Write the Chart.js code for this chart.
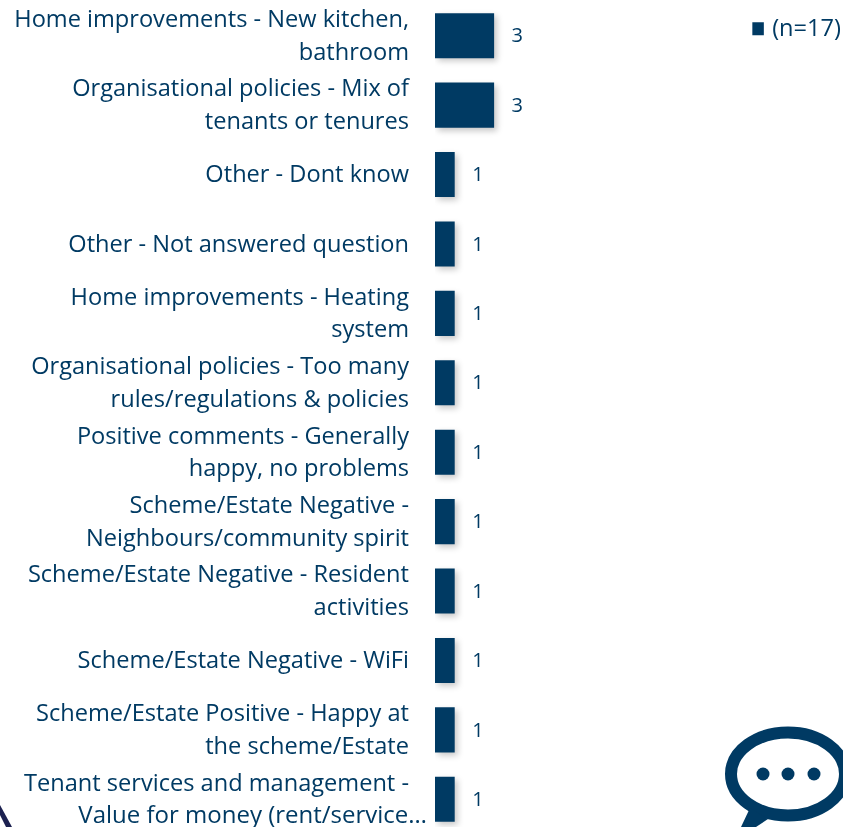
<!DOCTYPE html>
<html lang="en">
<head>
    <meta charset="UTF-8">
    <title>Comments (n=17)</title>
    <script src="https://cdn.jsdelivr.net/npm/chart.js"></script>
    <style>
        html, body { margin: 0; padding: 0; background: #fff; overflow: hidden; }
        #wrap { position: relative; width: 843px; height: 827px; overflow: hidden; }
        #box { position: absolute; left: 0; top: 1px; width: 843px; height: 833px; }
        #deco { position: absolute; left: 0; top: 0; }
    </style>
</head>
<body>
    <div id="wrap">
        <div id="box"><canvas id="grafico"></canvas></div>
        <svg id="deco" width="843" height="827">
            <polygon points="0,805 12,827 6,827 0,815" fill="#1c2150"/>
            <ellipse cx="788" cy="774" rx="57" ry="41.5" fill="none" stroke="#003a63" stroke-width="12"/>
            <polygon points="750,808 741,827 756,827 768,819" fill="#003a63"/>
            <circle cx="763" cy="774" r="6.5" fill="#003a63"/>
            <circle cx="788" cy="774" r="6.5" fill="#003a63"/>
            <circle cx="814" cy="774" r="6.5" fill="#003a63"/>
        </svg>
    </div>

    <script>
        const categorias = [
            ['Home improvements - New kitchen,', 'bathroom'],
            ['Organisational policies - Mix of', 'tenants or tenures'],
            'Other - Dont know',
            'Other - Not answered question',
            ['Home improvements - Heating', 'system'],
            ['Organisational policies - Too many', 'rules/regulations & policies'],
            ['Positive comments - Generally', 'happy, no problems'],
            ['Scheme/Estate Negative -', 'Neighbours/community spirit'],
            ['Scheme/Estate Negative - Resident', 'activities'],
            'Scheme/Estate Negative - WiFi',
            ['Scheme/Estate Positive - Happy at', 'the scheme/Estate'],
            // segunda linha desenhada a parte, ela passa da margem no original
            ['Tenant services and management -', '']
        ];
        const valores = [3, 3, 1, 1, 1, 1, 1, 1, 1, 1, 1, 1];
        const nomeSerie = '(n=17)';
        const linhaCortada = 'Value for money (rent/service\u2026';

        const azul = '#003a63';
        const fonte = '"Open Sans", sans-serif';

        // sombra das barras
        const sombra = {
            id: 'sombra',
            beforeDatasetsDraw(chart) {
                const ctx = chart.ctx;
                ctx.save();
                ctx.shadowColor = 'rgba(0,0,0,0.22)';
                ctx.shadowBlur = 6;
                ctx.shadowOffsetX = 3;
                ctx.shadowOffsetY = 3;
            },
            afterDatasetsDraw(chart) {
                chart.ctx.restore();
            }
        };

        // valor ao lado de cada barra e a linha final do eixo
        const rotulos = {
            id: 'rotulos',
            afterLayout(chart) {
                // legenda no canto, como no original
                chart.legend.top += 14;
                chart.legend.left += 8;
            },
            afterDraw(chart) {
                const ctx = chart.ctx;
                const meta = chart.getDatasetMeta(0);
                ctx.save();
                ctx.fillStyle = azul;
                ctx.font = '20px ' + fonte;
                ctx.textAlign = 'left';
                ctx.textBaseline = 'middle';
                meta.data.forEach((barra, i) => {
                    ctx.fillText(valores[i], barra.x + 17.5, barra.y + 1);
                });
                const ultima = meta.data[meta.data.length - 1];
                ctx.font = '24px ' + fonte;
                ctx.textAlign = 'right';
                ctx.fillText(linhaCortada, 427, ultima.y + 17);
                ctx.restore();
            }
        };

        new Chart(document.getElementById('grafico'), {
            type: 'bar',
            data: {
                labels: categorias,
                datasets: [{
                    label: nomeSerie,
                    data: valores,
                    backgroundColor: azul,
                    borderWidth: 0,
                    barPercentage: 1,
                    categoryPercentage: 0.65
                }]
            },
            options: {
                indexAxis: 'y',
                responsive: true,
                maintainAspectRatio: false,
                animation: false,
                layout: { padding: 0 },
                plugins: {
                    tooltip: { enabled: false },
                    legend: {
                        position: 'right',
                        align: 'start',
                        labels: {
                            color: azul,
                            font: { family: fonte, size: 23.6 },
                            usePointStyle: true,
                            boxWidth: 6,
                            boxHeight: 13,
                            padding: 2,
                            generateLabels(chart) {
                                return [{ text: nomeSerie, fillStyle: azul, strokeStyle: azul, lineWidth: 0, pointStyle: 'rect', datasetIndex: 0, fontColor: azul }];
                            }
                        }
                    }
                },
                scales: {
                    x: { display: false, min: 0, max: 15.7 },
                    y: {
                        afterFit(scale) {
                            scale.width = 435;
                            scale.paddingTop = 0;
                            scale.paddingBottom = 0;
                        },
                        grid: { display: false },
                        border: { display: false },
                        ticks: {
                            color: azul,
                            autoSkip: false,
                            padding: 18,
                            labelOffset: 1,
                            font: { family: fonte, size: 23.6, lineHeight: 1.39 }
                        }
                    }
                }
            },
            plugins: [sombra, rotulos]
        });
    </script>
</body>
</html>
